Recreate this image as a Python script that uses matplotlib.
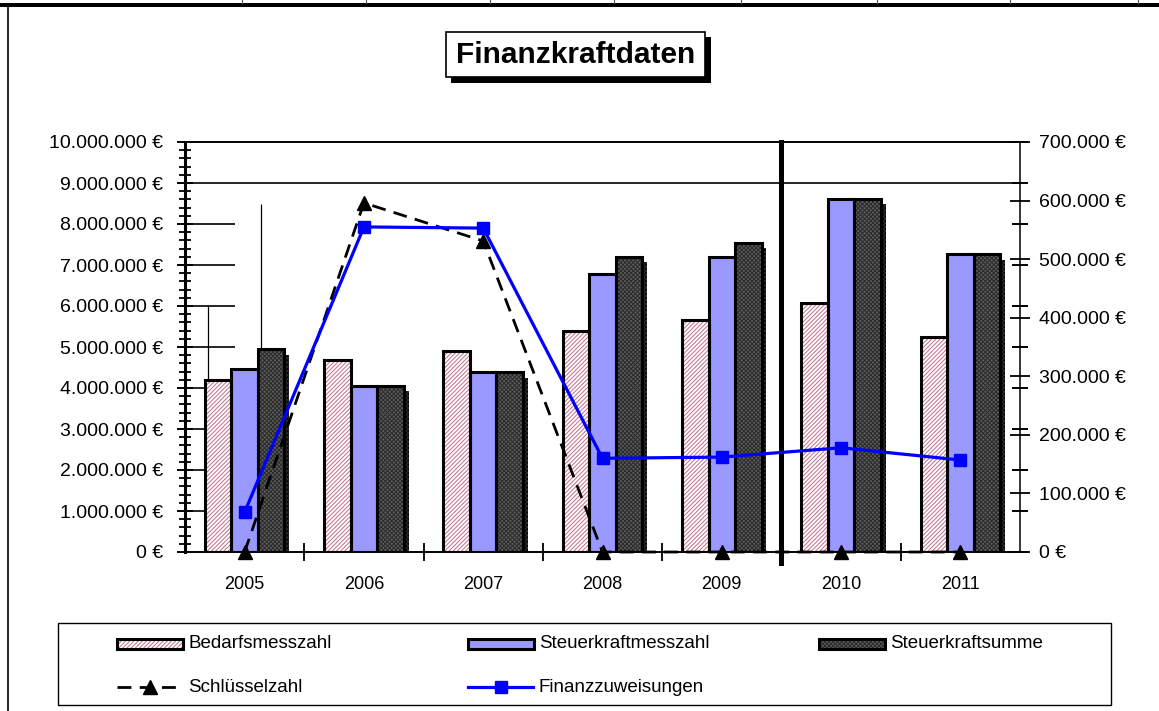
import matplotlib
matplotlib.use("Agg")
import matplotlib.pyplot as plt
import matplotlib.patheffects as pe
from matplotlib.patches import Rectangle
from matplotlib.lines import Line2D
from matplotlib.ticker import FuncFormatter, MultipleLocator
import numpy as np

plt.rcParams['font.family'] = ['Liberation Sans', 'DejaVu Sans']
plt.rcParams['hatch.linewidth'] = 0.75

# ---------------- data ----------------
years = ['2005', '2006', '2007', '2008', '2009', '2010', '2011']
bedarfsmesszahl = [4200000, 4680000, 4910000, 5400000, 5670000, 6080000, 5250000]
steuerkraftmesszahl = [4460000, 4060000, 4380000, 6770000, 7190000, 8620000, 7260000]
steuerkraftsumme = [4950000, 4060000, 4380000, 7200000, 7540000, 8620000, 7260000]
schluesselzahl = [0, 596000, 531000, 0, 0, 0, 0]
finanzzuweisungen = [68000, 555000, 553000, 160000, 162000, 178000, 157000]

series_names = ['Bedarfsmesszahl', 'Steuerkraftmesszahl', 'Steuerkraftsumme',
                'Schlüsselzahl', 'Finanzzuweisungen']
title = 'Finanzkraftdaten'

# ---------------- styles ----------------
PINK_HATCH = '#c47494'
BLUE = '#9999ff'
DARK_FACE = '#5e5e5e'
DARK_HATCH = '#2c2c2c'
LINE_BLUE = '#0000ff'
PINK_PAT = '////////'
DARK_PAT = 'xxxxxxxx'


def eur(v, pos=None):
    return f"{int(round(v)):,}".replace(',', '.') + " €"


W, H = 1159, 711
fig = plt.figure(figsize=(W / 100, H / 100), dpi=100)
L, R, T, B = 185, 1020, 142, 552
ax = fig.add_axes([L / W, 1 - B / H, (R - L) / W, (B - T) / H])
ax2 = ax.twinx()

x = np.arange(len(years))
w = 0.222

bar_specs = [
    (bedarfsmesszahl, -w, 'white', PINK_PAT, PINK_HATCH, False),
    (steuerkraftmesszahl, 0.0, BLUE, None, 'none', False),
    (steuerkraftsumme, w, DARK_FACE, DARK_PAT, DARK_HATCH, True),
]

ax.set_xlim(-0.5, len(years) - 0.5)
ax.set_ylim(0, 10000000)

# grid artefacts
ax.axhline(9000000, color='black', lw=1.2, zorder=1)
ax.hlines(np.arange(1000000, 9000000, 1000000), -0.5, -0.08, color='black', lw=1.2, zorder=1)
ax.vlines(-0.305, bedarfsmesszahl[0], 6000000, color='black', lw=0.9, zorder=1)
ax.vlines(0.14, steuerkraftsumme[0], 8500000, color='black', lw=0.9, zorder=1)

for vals, off, face, hatch, hc, shadow in bar_specs:
    bars = ax.bar(x + off, vals, w, color=face, edgecolor=hc, linewidth=0,
                  hatch=hatch, zorder=2)
    if shadow:
        for b in bars:
            b.set_path_effects([pe.SimplePatchShadow(offset=(3.5, -4),
                                                     shadow_rgbFace='black', alpha=1.0),
                                pe.Normal()])
    ax.bar(x + off, vals, w, fill=False, edgecolor='black', linewidth=2.2, zorder=3)

# separator between 2009 and 2010
ax.axvline(4.5, ymin=-0.027, ymax=1, color='black', lw=3.6, zorder=4, clip_on=False)

# left axis
ax.yaxis.set_major_locator(MultipleLocator(1000000))
ax.yaxis.set_minor_locator(MultipleLocator(200000))
ax.yaxis.set_major_formatter(FuncFormatter(eur))
ax.tick_params(axis='y', which='major', direction='inout', length=12, width=1.4,
               labelsize=14, pad=10, right=True, labelright=False)
ax.tick_params(axis='y', which='minor', direction='inout', length=8, width=1.3, right=False)

# x axis
ax.set_xticks(np.arange(0.5, len(years) - 1, 1.0))
ax.set_xticklabels([])
ax.set_xticks(x, minor=True)
ax.set_xticklabels(years, minor=True)
ax.tick_params(axis='x', which='major', direction='inout', length=13, width=1.3)
ax.tick_params(axis='x', which='minor', length=0, pad=17, labelsize=13)

for s, lw in (('left', 2.2), ('top', 1.4), ('right', 1.1), ('bottom', 1.4)):
    ax.spines[s].set_linewidth(lw)

# right axis with lines
ax2.set_ylim(0, 700000)
ax2.yaxis.set_major_locator(MultipleLocator(100000))
ax2.yaxis.set_major_formatter(FuncFormatter(eur))
ax2.tick_params(axis='y', direction='inout', length=14, width=1.3, labelsize=14, pad=7)
for s in ax2.spines.values():
    s.set_visible(False)

ax2.plot(x, schluesselzahl, color='black', lw=2.0, ls=(0, (5, 3)), marker='^', ms=10,
         mfc='black', mec='black', clip_on=False, zorder=3)
ax2.plot(x, finanzzuweisungen, color=LINE_BLUE, lw=2.3, marker='s', ms=9,
         mfc=LINE_BLUE, mec=LINE_BLUE, clip_on=False, zorder=4)

# ---------------- overlay: frame, title, legend ----------------
oax = fig.add_axes([0, 0, 1, 1])
oax.set_xlim(0, W)
oax.set_ylim(H, 0)
oax.axis('off')

oax.add_patch(Rectangle((0, 2.5), W, 4.5, facecolor='black', edgecolor='none'))
for sx in (242, 366, 490, 614, 741, 877, 1010, 1138):
    oax.plot([sx, sx], [0, 3], color='#555555', lw=0.8)
oax.plot([8, 8], [7, H], color='black', lw=1.2)

# title box
oax.add_patch(Rectangle((451, 37), 260, 46, facecolor='black', edgecolor='none'))
oax.add_patch(Rectangle((446, 32), 259, 45, facecolor='white', edgecolor='black', lw=1.2))
oax.text(575.5, 55, title, ha='center', va='center', fontsize=21.5, fontweight='bold')

# legend
oax.add_patch(Rectangle((58, 623), 1053, 82, facecolor='white', edgecolor='black', lw=1.0))
leg_cols = [117, 468, 819]
row_y = [644, 687]
patch_styles = [('white', PINK_PAT, PINK_HATCH), (BLUE, None, 'none'), (DARK_FACE, DARK_PAT, DARK_HATCH)]
for i, (face, hatch, hc) in enumerate(patch_styles):
    x0 = leg_cols[i]
    oax.add_patch(Rectangle((x0, row_y[0] - 5), 66, 10, facecolor=face, edgecolor=hc,
                            lw=0, hatch=hatch))
    oax.add_patch(Rectangle((x0, row_y[0] - 5), 66, 10, fill=False, edgecolor='black', lw=2.2))
    oax.text(x0 + 71, row_y[0], series_names[i], ha='left', va='center', fontsize=13.5)

oax.add_line(Line2D([117, 150, 183], [row_y[1]] * 3, color='black', lw=2.0, ls=(0, (5, 3)),
                    marker='^', ms=10, markevery=[1], mfc='black', mec='black'))
oax.text(188, row_y[1], series_names[3], ha='left', va='center', fontsize=13.5)
oax.add_line(Line2D([468, 500.5, 533], [row_y[1]] * 3, color=LINE_BLUE, lw=2.3,
                    marker='s', ms=9, markevery=[1], mfc=LINE_BLUE, mec=LINE_BLUE))
oax.text(539, row_y[1], series_names[4], ha='left', va='center', fontsize=13.5)

fig.savefig('out.png', dpi=100)
